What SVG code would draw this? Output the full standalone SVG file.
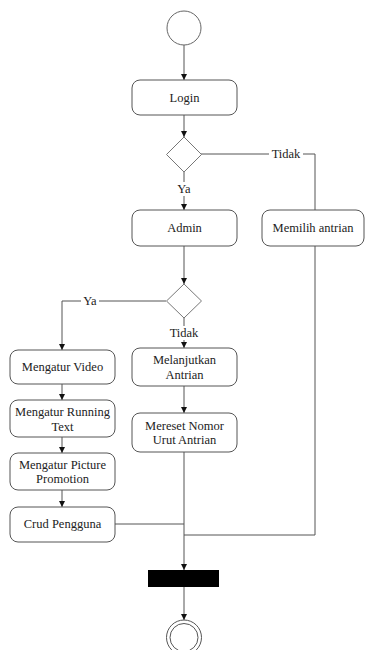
<svg xmlns="http://www.w3.org/2000/svg" width="365" height="650" viewBox="0 0 365 650">
<style>
.box{fill:#fff;stroke:#555;stroke-width:1}
.dia{fill:#fff;stroke:#777;stroke-width:1}
.ln{fill:none;stroke:#555;stroke-width:1}
.t{font-family:"Liberation Serif","Times New Roman",serif;font-size:12.5px;fill:#222;text-anchor:middle;dominant-baseline:central}
.lb{fill:#fff}
</style>
<defs>
<marker id="arr" viewBox="0 0 8 8" refX="8" refY="4" markerWidth="6" markerHeight="6" markerUnits="userSpaceOnUse" orient="auto">
<path d="M0,0 L8,4 L0,8 Z" fill="#111"/>
</marker>
</defs>
<rect width="365" height="650" fill="#fff"/>
<g id="connectors">
<line class="ln" x1="184" y1="45" x2="184" y2="80" marker-end="url(#arr)"/>
<line class="ln" x1="184" y1="115" x2="184" y2="137" marker-end="url(#arr)"/>
<polyline class="ln" points="201,154 315,154 315,210"/>
<line class="ln" x1="184" y1="172" x2="184" y2="210" marker-end="url(#arr)"/>
<line class="ln" x1="184" y1="246" x2="184" y2="284" marker-end="url(#arr)"/>
<polyline class="ln" points="166,301 62,301 62,350" marker-end="url(#arr)"/>
<line class="ln" x1="184" y1="318" x2="184" y2="348" marker-end="url(#arr)"/>
<line class="ln" x1="62" y1="384" x2="62" y2="400" marker-end="url(#arr)"/>
<line class="ln" x1="62" y1="437" x2="62" y2="453" marker-end="url(#arr)"/>
<line class="ln" x1="62" y1="490" x2="62" y2="507" marker-end="url(#arr)"/>
<line class="ln" x1="184" y1="386" x2="184" y2="413" marker-end="url(#arr)"/>
<line class="ln" x1="184" y1="452" x2="184" y2="570" marker-end="url(#arr)"/>
<line class="ln" x1="115" y1="524" x2="184" y2="524"/>
<polyline class="ln" points="315,246 315,535 184,535"/>
<line class="ln" x1="184" y1="587" x2="184" y2="620" marker-end="url(#arr)"/>
<rect class="lb" x="269" y="147" width="34" height="13"/>
<text class="t" x="286" y="154">Tidak</text>
<rect class="lb" x="176" y="182" width="16" height="14"/>
<text class="t" x="184" y="189">Ya</text>
<rect class="lb" x="81" y="294" width="18" height="14"/>
<text class="t" x="90" y="301">Ya</text>
<rect class="lb" x="168" y="326" width="32" height="14"/>
<text class="t" x="184" y="333">Tidak</text>
</g>
<g id="start"><circle cx="184" cy="28" r="17" fill="#fff" stroke="#666"/></g>
<g id="login"><rect class="box" x="132" y="80" width="105" height="35" rx="8"/><text class="t" x="184.5" y="98">Login</text></g>
<g id="decision1"><polygon class="dia" points="184,137 201.5,154.5 184,172 166.5,154.5"/></g>
<g id="admin"><rect class="box" x="132" y="210" width="105" height="36" rx="8"/><text class="t" x="184.5" y="228">Admin</text></g>
<g id="memilih"><rect class="box" x="262" y="210" width="102" height="36" rx="8"/><text class="t" x="313" y="228">Memilih antrian</text></g>
<g id="decision2"><polygon class="dia" points="184,284 201.5,301 184,318 166.5,301"/></g>
<g id="video"><rect class="box" x="10" y="350" width="105" height="34" rx="8"/><text class="t" x="62.5" y="367">Mengatur Video</text></g>
<g id="running"><rect class="box" x="10" y="400" width="105" height="37" rx="8"/><text class="t" x="62.5" y="412">Mengatur Running</text><text class="t" x="62.5" y="427">Text</text></g>
<g id="picture"><rect class="box" x="10" y="453" width="105" height="37" rx="8"/><text class="t" x="62.5" y="465">Mengatur Picture</text><text class="t" x="62.5" y="479">Promotion</text></g>
<g id="crud"><rect class="box" x="10" y="507" width="105" height="35" rx="8"/><text class="t" x="62.5" y="524">Crud Pengguna</text></g>
<g id="melanjutkan"><rect class="box" x="132" y="348" width="105" height="38" rx="8"/><text class="t" x="184.5" y="360">Melanjutkan</text><text class="t" x="184.5" y="375">Antrian</text></g>
<g id="mereset"><rect class="box" x="132" y="413" width="105" height="39" rx="8"/><text class="t" x="184.5" y="426">Mereset Nomor</text><text class="t" x="184.5" y="440">Urut Antrian</text></g>
<g id="join"><rect x="148" y="570" width="71" height="17" fill="#000"/></g>
<g id="end"><circle cx="184" cy="637.5" r="17.5" fill="#fff" stroke="#555"/><circle cx="184" cy="637.5" r="14" fill="#fff" stroke="#555"/></g>
</svg>
